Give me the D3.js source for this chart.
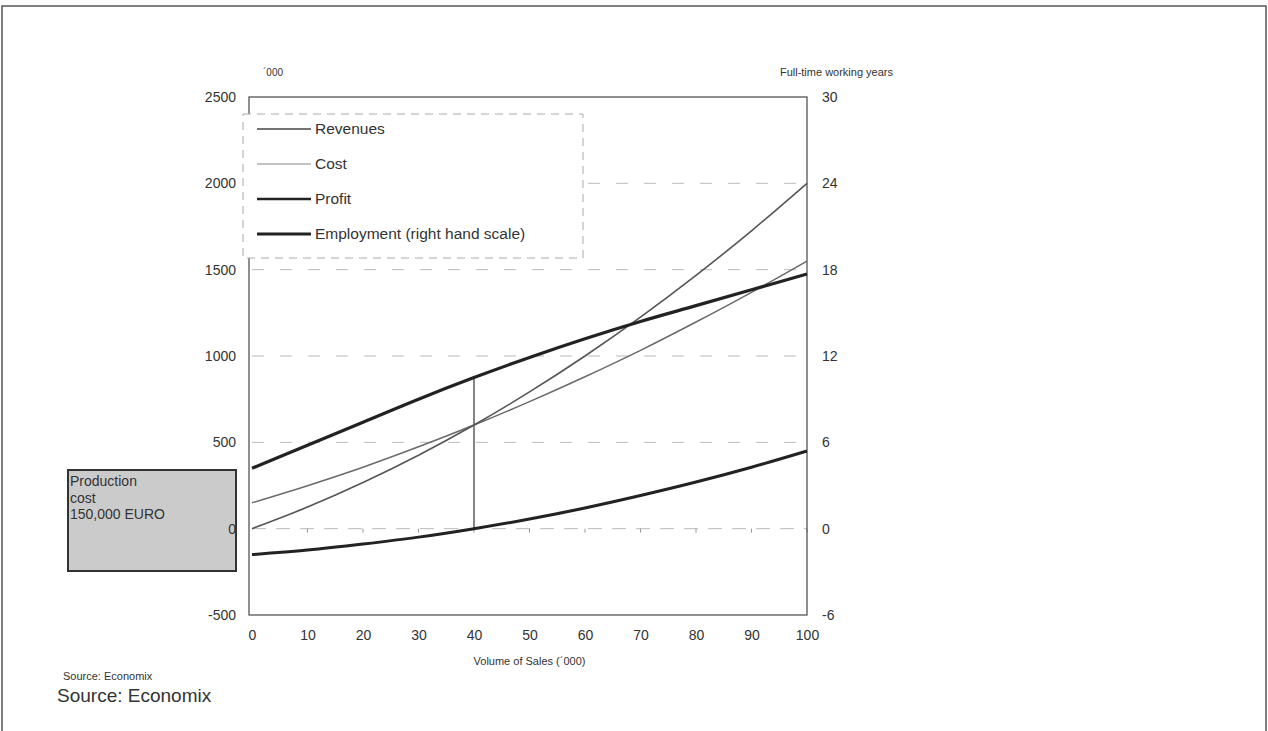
<!DOCTYPE html>
<html>
<head>
<meta charset="utf-8">
<script src="https://cdn.jsdelivr.net/npm/d3@7"></script>
<style>
  body { margin: 0; background: #fff; }
  text { font-family: "Liberation Sans", Arial, sans-serif; fill: #333; }
</style>
</head>
<body>
<div id="chart"></div>
<script>
// values
const volume = [0, 10, 20, 30, 40, 50, 60, 70, 80, 90, 100];
const revenues = [0, 125, 267, 425, 600, 792, 1000, 1225, 1467, 1725, 2000];
const cost = [150, 249, 356, 474, 600, 736, 880, 1033, 1197, 1369, 1550];
const profit = [-150, -124, -89, -49, 0, 56, 120, 192, 270, 356, 450];
const employment = [4.2, 5.8, 7.4, 9.0, 10.5, 11.9, 13.2, 14.4, 15.5, 16.6, 17.7];
const leftTicks = [-500, 0, 500, 1000, 1500, 2000, 2500];
const rightTicks = [-6, 0, 6, 12, 18, 24, 30];
const gridValues = [500, 1000, 1500, 2000];
const breakEven = 40;
const boxLines = ["Production", "cost", "150,000 EURO"];

const width = 1268, height = 731;

const svg = d3.select("#chart").append("svg")
    .attr("width", width)
    .attr("height", height);

// outer border (no bottom edge)
svg.append("path")
    .attr("d", "M2,731 V6 H1266 V731")
    .attr("fill", "none")
    .attr("stroke", "#555")
    .attr("stroke-width", 1.5);

const x = d3.scaleLinear().domain([0, 100]).range([252, 807]);
const yL = d3.scaleLinear().domain([-500, 2500]).range([615, 97]);
const yR = d3.scaleLinear().domain([-6, 30]).range([615, 97]);

// production cost box (drawn first so the "0" label sits on top)
svg.append("rect")
    .attr("x", 68).attr("y", 470)
    .attr("width", 168).attr("height", 101)
    .attr("fill", "#cbcbcb")
    .attr("stroke", "#333")
    .attr("stroke-width", 2);
boxLines.forEach((t, i) => {
    svg.append("text")
        .attr("x", 70).attr("y", 486 + i * 16.5)
        .attr("font-size", 14)
        .attr("fill", "#222")
        .text(t);
});

// grid
svg.append("g").selectAll("line")
    .data(gridValues)
    .enter().append("line")
    .attr("x1", x(0)).attr("x2", x(100))
    .attr("y1", d => yL(d)).attr("y2", d => yL(d))
    .attr("stroke", "#bbb")
    .attr("stroke-dasharray", "12,16");

// zero line with category ticks
svg.append("line")
    .attr("x1", x(0)).attr("x2", x(100))
    .attr("y1", yL(0)).attr("y2", yL(0))
    .attr("stroke", "#bbb")
    .attr("stroke-dasharray", "14,10");
svg.append("g").selectAll("line")
    .data(volume.slice(1))
    .enter().append("line")
    .attr("x1", d => x(d)).attr("x2", d => x(d))
    .attr("y1", yL(0)).attr("y2", yL(0) + 4)
    .attr("stroke", "#999");

// frame
svg.append("rect")
    .attr("x", x(0) - 3).attr("y", yL(2500))
    .attr("width", x(100) - x(0) + 3)
    .attr("height", yL(-500) - yL(2500))
    .attr("fill", "none")
    .attr("stroke", "#555")
    .attr("stroke-width", 1.3);

// axes
const axisStyle = g => {
    g.select(".domain").remove();
    g.selectAll("text").attr("font-size", 14).attr("fill", "#333");
};
const plain = d => String(d);
svg.append("g")
    .attr("transform", `translate(${x(0) - 3},0)`)
    .call(d3.axisLeft(yL).tickValues(leftTicks).tickSize(0).tickPadding(13).tickFormat(plain))
    .call(axisStyle);
svg.append("g")
    .attr("transform", `translate(${x(100)},0)`)
    .call(d3.axisRight(yR).tickValues(rightTicks).tickSize(0).tickPadding(15).tickFormat(plain))
    .call(axisStyle);
svg.append("g")
    .attr("transform", `translate(0,${yL(-500)})`)
    .call(d3.axisBottom(x).tickValues(volume).tickSize(0).tickPadding(15).tickFormat(plain))
    .call(axisStyle);

svg.append("text")
    .attr("x", (x(0) + x(100)) / 2).attr("y", 665)
    .attr("text-anchor", "middle")
    .attr("font-size", 11)
    .text("Volume of Sales (´000)");
svg.append("text")
    .attr("x", 263).attr("y", 76)
    .attr("font-size", 10)
    .text("´000");
svg.append("text")
    .attr("x", 893).attr("y", 76)
    .attr("text-anchor", "end")
    .attr("font-size", 11)
    .text("Full-time working years");

// series
const lineL = vals => d3.line()
    .x((d, i) => x(volume[i]))
    .y(d => yL(d))
    .curve(d3.curveMonotoneX)(vals);
const lineR = vals => d3.line()
    .x((d, i) => x(volume[i]))
    .y(d => yR(d))
    .curve(d3.curveMonotoneX)(vals);

// break-even marker
svg.append("line")
    .attr("x1", x(breakEven)).attr("x2", x(breakEven))
    .attr("y1", yR(employment[volume.indexOf(breakEven)]))
    .attr("y2", yL(0))
    .attr("stroke", "#333")
    .attr("stroke-width", 1.2);

svg.append("path").attr("d", lineL(cost))
    .attr("fill", "none").attr("stroke", "#6a6a6a").attr("stroke-width", 1.5);
svg.append("path").attr("d", lineL(revenues))
    .attr("fill", "none").attr("stroke", "#555").attr("stroke-width", 1.6);
svg.append("path").attr("d", lineL(profit))
    .attr("fill", "none").attr("stroke", "#222").attr("stroke-width", 3);
svg.append("path").attr("d", lineR(employment))
    .attr("fill", "none").attr("stroke", "#222").attr("stroke-width", 3.2);

// legend
const legendItems = [
    { name: "Revenues", color: "#444", w: 1.6 },
    { name: "Cost", color: "#888", w: 1.2 },
    { name: "Profit", color: "#222", w: 2.6 },
    { name: "Employment (right hand scale)", color: "#222", w: 3.2 }
];
const legend = svg.append("g");
legend.append("rect")
    .attr("x", 243).attr("y", 114)
    .attr("width", 340).attr("height", 144)
    .attr("fill", "#fff")
    .attr("stroke", "#aaa")
    .attr("stroke-dasharray", "8,6");
legendItems.forEach((d, i) => {
    const ly = 129 + i * 35;
    legend.append("line")
        .attr("x1", 257).attr("x2", 311)
        .attr("y1", ly).attr("y2", ly)
        .attr("stroke", d.color)
        .attr("stroke-width", d.w);
    legend.append("text")
        .attr("x", 315).attr("y", ly + 5)
        .attr("font-size", 15.5)
        .text(d.name);
});

// source notes
svg.append("text")
    .attr("x", 63).attr("y", 680)
    .attr("font-size", 11)
    .text("Source: Economix");
svg.append("text")
    .attr("x", 57).attr("y", 702)
    .attr("font-size", 19)
    .text("Source: Economix");
</script>
</body>
</html>
